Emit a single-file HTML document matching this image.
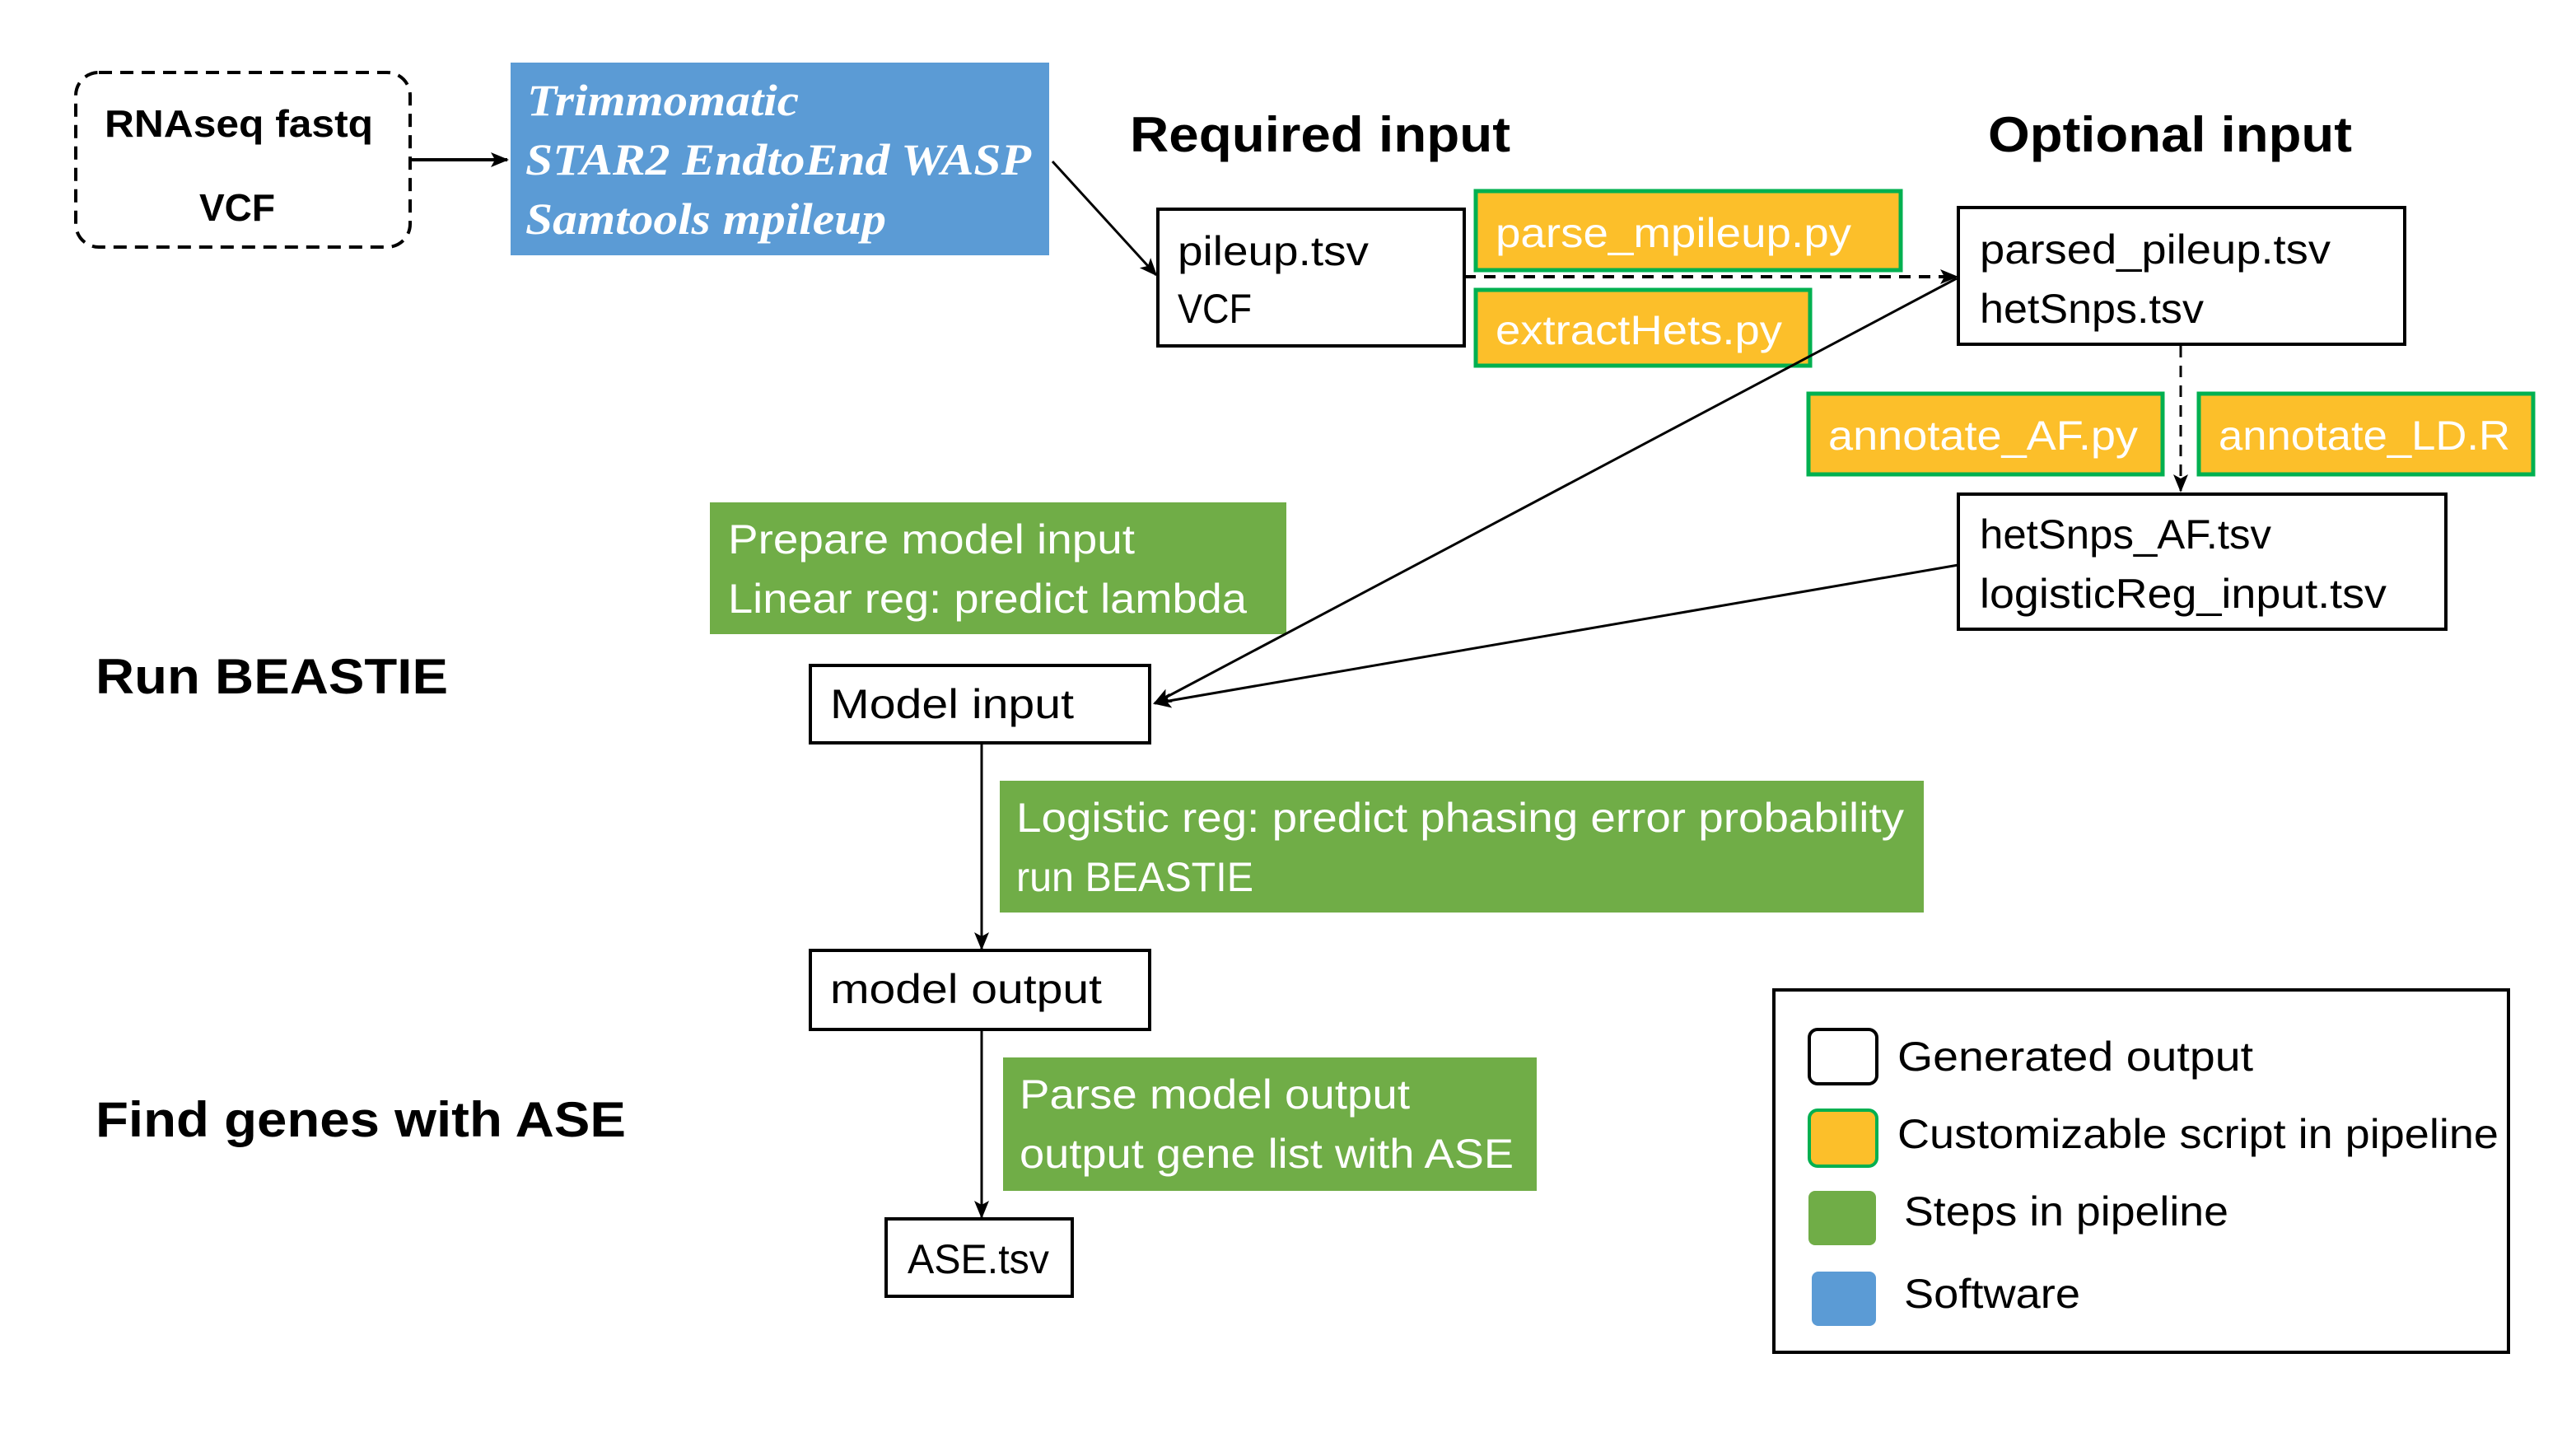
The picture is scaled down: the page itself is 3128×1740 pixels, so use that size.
<!DOCTYPE html>
<html><head><meta charset="utf-8"><style>html,body{margin:0;padding:0;background:#fff}svg{display:block}</style></head>
<body>
<svg width="3128" height="1740" viewBox="0 0 3128 1740" xmlns="http://www.w3.org/2000/svg" font-family="Liberation Sans, sans-serif">
<defs>
<marker id="ah" markerWidth="10" markerHeight="10" refX="9" refY="5" orient="auto" markerUnits="userSpaceOnUse" viewBox="0 0 10 10"><path d="M0,0 L10,5 L0,10 z" fill="#000"/></marker>
<marker id="ah2" markerWidth="22" markerHeight="22" refX="20" refY="11" orient="auto" markerUnits="userSpaceOnUse" viewBox="0 0 22 22"><path d="M0,2 L22,11 L0,20 L5,11 z" fill="#000"/></marker>
</defs>
<rect width="3128" height="1740" fill="#fff"/>

<!-- dashed input box -->
<rect x="92" y="88" width="406" height="212" rx="28" fill="none" stroke="#000" stroke-width="4" stroke-dasharray="16,10"/>
<text x="290" y="166" font-size="46" font-weight="bold" text-anchor="middle" textLength="326" lengthAdjust="spacingAndGlyphs">RNAseq fastq</text>
<text x="288" y="268" font-size="46" font-weight="bold" text-anchor="middle" textLength="92" lengthAdjust="spacingAndGlyphs">VCF</text>
<line x1="498" y1="194" x2="616" y2="194" stroke="#000" stroke-width="4" marker-end="url(#ah2)"/>

<!-- blue software box -->
<rect x="620" y="76" width="654" height="234" fill="#5b9bd5"/>
<g font-family="Liberation Serif, serif" font-style="italic" font-weight="bold" fill="#fff" font-size="54">
<text x="640" y="140" textLength="330" lengthAdjust="spacingAndGlyphs">Trimmomatic</text>
<text x="638" y="212" textLength="614" lengthAdjust="spacingAndGlyphs">STAR2 EndtoEnd WASP</text>
<text x="638" y="284" textLength="438" lengthAdjust="spacingAndGlyphs">Samtools mpileup</text>
</g>

<text x="1372" y="184" font-size="60" font-weight="bold" textLength="462" lengthAdjust="spacingAndGlyphs">Required input</text>
<text x="2414" y="184" font-size="60" font-weight="bold" textLength="442" lengthAdjust="spacingAndGlyphs">Optional input</text>

<line x1="1278" y1="196" x2="1404" y2="334" stroke="#000" stroke-width="3" marker-end="url(#ah2)"/>

<g font-size="50">
<!-- pileup box -->
<rect x="1406" y="254" width="372" height="166" fill="#fff" stroke="#000" stroke-width="4"/>
<text x="1430" y="322" textLength="232" lengthAdjust="spacingAndGlyphs">pileup.tsv</text>
<text x="1430" y="392" textLength="90" lengthAdjust="spacingAndGlyphs">VCF</text>

<!-- orange scripts -->
<rect x="1792" y="232" width="516" height="96" fill="#fcbf2a" stroke="#00b050" stroke-width="5"/>
<text x="1816" y="300" fill="#fff" textLength="432" lengthAdjust="spacingAndGlyphs">parse_mpileup.py</text>
<rect x="1792" y="352" width="406" height="92" fill="#fcbf2a" stroke="#00b050" stroke-width="5"/>
<text x="1816" y="418" fill="#fff" textLength="348" lengthAdjust="spacingAndGlyphs">extractHets.py</text>

<line x1="1778" y1="336" x2="2376" y2="336" stroke="#000" stroke-width="4" stroke-dasharray="14,10" marker-end="url(#ah2)"/>

<!-- parsed box -->
<rect x="2378" y="252" width="542" height="166" fill="#fff" stroke="#000" stroke-width="4"/>
<text x="2404" y="320" textLength="426" lengthAdjust="spacingAndGlyphs">parsed_pileup.tsv</text>
<text x="2404" y="392" textLength="272" lengthAdjust="spacingAndGlyphs">hetSnps.tsv</text>

<line x1="2648" y1="420" x2="2648" y2="596" stroke="#000" stroke-width="3" stroke-dasharray="14,10" marker-end="url(#ah2)"/>

<rect x="2196" y="478" width="430" height="98" fill="#fcbf2a" stroke="#00b050" stroke-width="5"/>
<text x="2220" y="546" fill="#fff" textLength="376" lengthAdjust="spacingAndGlyphs">annotate_AF.py</text>
<rect x="2670" y="478" width="406" height="98" fill="#fcbf2a" stroke="#00b050" stroke-width="5"/>
<text x="2694" y="546" fill="#fff" textLength="354" lengthAdjust="spacingAndGlyphs">annotate_LD.R</text>

<rect x="2378" y="600" width="592" height="164" fill="#fff" stroke="#000" stroke-width="4"/>
<text x="2404" y="666" textLength="354" lengthAdjust="spacingAndGlyphs">hetSnps_AF.tsv</text>
<text x="2404" y="738" textLength="494" lengthAdjust="spacingAndGlyphs">logisticReg_input.tsv</text>

<!-- green prepare -->
<rect x="862" y="610" width="700" height="160" fill="#70ad47"/>
<text x="884" y="672" fill="#fff" textLength="494" lengthAdjust="spacingAndGlyphs">Prepare model input</text>
<text x="884" y="744" fill="#fff" textLength="630" lengthAdjust="spacingAndGlyphs">Linear reg: predict lambda</text>

<!-- lines into model input -->
<line x1="2376" y1="338" x2="1402" y2="854" stroke="#000" stroke-width="3" marker-end="url(#ah2)"/>
<line x1="2378" y1="686" x2="1402" y2="854" stroke="#000" stroke-width="3" marker-end="url(#ah2)"/>

<rect x="984" y="808" width="412" height="94" fill="#fff" stroke="#000" stroke-width="4"/>
<text x="1008" y="872" textLength="296" lengthAdjust="spacingAndGlyphs">Model input</text>

<line x1="1192" y1="902" x2="1192" y2="1152" stroke="#000" stroke-width="3" marker-end="url(#ah2)"/>

<rect x="1214" y="948" width="1122" height="160" fill="#70ad47"/>
<text x="1234" y="1010" fill="#fff" textLength="1078" lengthAdjust="spacingAndGlyphs">Logistic reg: predict phasing error probability</text>
<text x="1234" y="1082" fill="#fff" textLength="288" lengthAdjust="spacingAndGlyphs">run BEASTIE</text>

<rect x="984" y="1154" width="412" height="96" fill="#fff" stroke="#000" stroke-width="4"/>
<text x="1008" y="1218" textLength="330" lengthAdjust="spacingAndGlyphs">model output</text>

<line x1="1192" y1="1250" x2="1192" y2="1478" stroke="#000" stroke-width="3" marker-end="url(#ah2)"/>

<rect x="1218" y="1284" width="648" height="162" fill="#70ad47"/>
<text x="1238" y="1346" fill="#fff" textLength="474" lengthAdjust="spacingAndGlyphs">Parse model output</text>
<text x="1238" y="1418" fill="#fff" textLength="600" lengthAdjust="spacingAndGlyphs">output gene list with ASE</text>

<rect x="1076" y="1480" width="226" height="94" fill="#fff" stroke="#000" stroke-width="4"/>
<text x="1102" y="1546" textLength="172" lengthAdjust="spacingAndGlyphs">ASE.tsv</text>
</g>

<text x="116" y="842" font-size="60" font-weight="bold" textLength="428" lengthAdjust="spacingAndGlyphs">Run BEASTIE</text>
<text x="116" y="1380" font-size="60" font-weight="bold" textLength="644" lengthAdjust="spacingAndGlyphs">Find genes with ASE</text>

<!-- legend -->
<rect x="2154" y="1202" width="892" height="440" fill="#fff" stroke="#000" stroke-width="4"/>
<rect x="2197" y="1250" width="82" height="66" rx="10" fill="#fff" stroke="#000" stroke-width="4"/>
<rect x="2197" y="1348" width="82" height="68" rx="10" fill="#fcbf2a" stroke="#00b050" stroke-width="4"/>
<rect x="2196" y="1446" width="82" height="66" rx="8" fill="#70ad47"/>
<rect x="2200" y="1544" width="78" height="66" rx="8" fill="#5b9bd5"/>
<g font-size="50">
<text x="2304" y="1300" textLength="432" lengthAdjust="spacingAndGlyphs">Generated output</text>
<text x="2304" y="1394" textLength="730" lengthAdjust="spacingAndGlyphs">Customizable script in pipeline</text>
<text x="2312" y="1488" textLength="394" lengthAdjust="spacingAndGlyphs">Steps in pipeline</text>
<text x="2312" y="1588" textLength="214" lengthAdjust="spacingAndGlyphs">Software</text>
</g>
</svg>
</body></html>
